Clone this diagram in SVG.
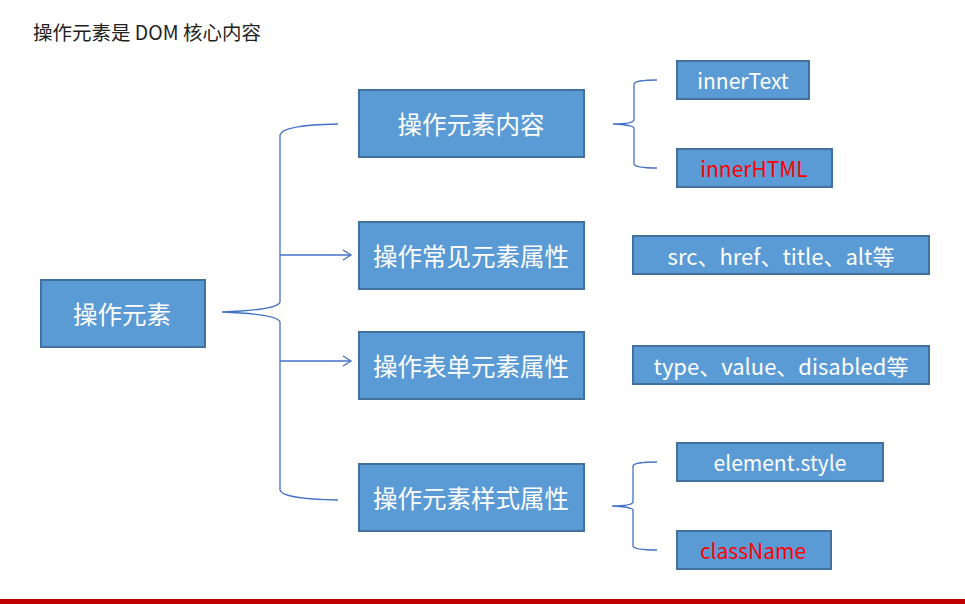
<svg xmlns="http://www.w3.org/2000/svg" width="965" height="604" viewBox="0 0 965 604">
<style>
.box{fill:#5B9BD5;stroke:#41719C;stroke-width:2}
.t{font-family:"Noto Sans CJK SC","Noto Sans",sans-serif;fill:#fff;text-anchor:middle;dominant-baseline:central}
.big{font-size:24.5px}
.sm{font-size:21px}
.src{font-size:22px}
.red{fill:#FF0000}
.ln{fill:none;stroke:#4472C4;stroke-width:1.3}
</style>
<defs>
<marker id="ah" markerWidth="12" markerHeight="12" refX="10" refY="6" orient="auto" markerUnits="userSpaceOnUse">
<path d="M2,1 L10,6 L2,11" fill="none" stroke="#4472C4" stroke-width="1.3"/>
</marker>
</defs>
<rect width="965" height="604" fill="#fff"/>
<text x="33" y="31" font-family="'Noto Sans CJK SC','Noto Sans',sans-serif" font-size="19.5" fill="#222" dominant-baseline="central">操作元素是 DOM 核心内容</text>
<g id="connectors">
<path class="ln" d="M338,124 Q282,125 280,135 L280,302 Q278,310 222,312 Q278,314 280,322 L280,490 Q282,499 338,500"/>
<path class="ln" d="M280,255 L351,255" marker-end="url(#ah)"/>
<path class="ln" d="M280,361 L351,361" marker-end="url(#ah)"/>
<path class="ln" d="M657,80 Q635,80 634,84 L634,120 Q633,124 613,124 Q633,125 634,128 L634,164 Q635,168 657,168"/>
<path class="ln" d="M657,462 Q634,462 633,466 L633,502 Q632,506 612,506 Q632,507 633,510 L633,546 Q634,550 657,550"/>
</g>
<g id="n-main"><rect class="box" x="41" y="280" width="164" height="67"/><text class="t big" x="122" y="313">操作元素</text></g>
<g id="n-content"><rect class="box" x="359" y="90" width="225" height="67"/><text class="t big" x="471" y="123">操作元素内容</text></g>
<g id="n-attr"><rect class="box" x="359" y="222" width="225" height="67"/><text class="t big" x="471" y="255">操作常见元素属性</text></g>
<g id="n-form"><rect class="box" x="359" y="332" width="225" height="67"/><text class="t big" x="471" y="365">操作表单元素属性</text></g>
<g id="n-style"><rect class="box" x="359" y="464" width="225" height="67"/><text class="t big" x="471" y="497">操作元素样式属性</text></g>
<g id="n-innertext"><rect class="box" x="677" y="61" width="132" height="38"/><text class="t sm" x="743" y="80">innerText</text></g>
<g id="n-innerhtml"><rect class="box" x="677" y="149" width="155" height="38"/><text class="t sm red" x="754" y="168">innerHTML</text></g>
<g id="n-src"><rect class="box" x="633" y="236" width="296" height="38"/><text class="t src" x="781" y="255">src、href、title、alt等</text></g>
<g id="n-type"><rect class="box" x="633" y="346" width="296" height="38"/><text class="t src" x="781" y="365">type、value、disabled等</text></g>
<g id="n-elstyle"><rect class="box" x="677" y="443" width="206" height="38"/><text class="t sm" x="780" y="462">element.style</text></g>
<g id="n-classname"><rect class="box" x="677" y="531" width="154" height="38"/><text class="t sm red" x="753" y="550">className</text></g>
<rect x="0" y="599" width="965" height="5" fill="#C00000"/>
</svg>
